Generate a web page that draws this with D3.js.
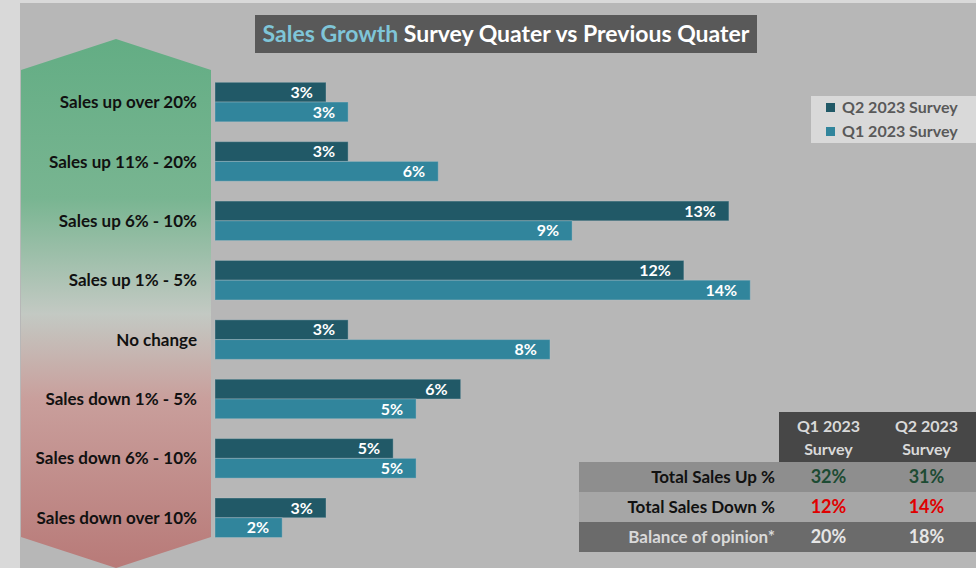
<!DOCTYPE html>
<html>
<head>
<meta charset="utf-8">
<script src="https://cdn.jsdelivr.net/npm/d3@7/dist/d3.min.js"></script>
<style>
  html, body { margin: 0; padding: 0; background: #d9d9d9; }
  svg { display: block; }
  text { font-family: Lato, "Open Sans", sans-serif; }
</style>
</head>
<body>
<svg id="chart" width="976" height="568"></svg>
<script>
// ---------------- data ----------------
const categories = [
  "Sales up over 20%", "Sales up 11% - 20%", "Sales up 6% - 10%", "Sales up 1% - 5%",
  "No change", "Sales down 1% - 5%", "Sales down 6% - 10%", "Sales down over 10%"
];
const seriesNames = ["Q2 2023 Survey", "Q1 2023 Survey"];
const q2Values = [2.81, 3.37, 13.01, 11.87, 3.37, 6.22, 4.51, 2.81];
const q1Values = [3.37, 5.65, 9.04, 13.55, 8.48, 5.09, 5.09, 1.70];
const seriesColors = ["#215967", "#31859c"];

const tableHeaders = [["Q1 2023", "Survey"], ["Q2 2023", "Survey"]];
const tableRowLabels = ["Total Sales Up %", "Total Sales Down %", "Balance of opinion*"];
const tableQ1 = [32, 12, 20];
const tableQ2 = [31, 14, 18];

const titleParts = ["Sales Growth", " Survey Quater vs Previous Quater"];

// ---------------- drawing ----------------
const svg = d3.select("#chart");

svg.append("rect").attr("x", 0).attr("y", 0).attr("width", 976).attr("height", 568).attr("fill", "#d9d9d9");
svg.append("rect").attr("x", 20).attr("y", 3).attr("width", 956).attr("height", 565).attr("fill", "#b7b7b7");

const defs = svg.append("defs");
const grad = defs.append("linearGradient").attr("id", "arrowGrad")
  .attr("x1", 0).attr("y1", 0).attr("x2", 0).attr("y2", 1);
[[0, "#63ad84"], [0.3, "#78b591"], [0.52, "#c3c9c3"], [0.68, "#c99f9c"], [1, "#b87a78"]]
  .forEach(([o, c]) => grad.append("stop").attr("offset", o).attr("stop-color", c));
svg.append("path")
  .attr("d", "M116,39 L211,70 L211,537 L116,568 L21,537 L21,70 Z")
  .attr("fill", "url(#arrowGrad)");

const x = d3.scaleLinear().domain([0, 14]).range([215, 215 + 14 * 39.5]);
const y = d3.scaleBand().domain(categories).range([82.3, 537.5]).paddingInner(0.335).paddingOuter(0);
const ySub = d3.scaleBand().domain(seriesNames).range([0, y.bandwidth()]);

const rows = categories.map((c, i) => ({ cat: c, vals: [q2Values[i], q1Values[i]] }));

const groups = svg.append("g").selectAll("g.cat").data(rows).join("g")
  .attr("class", "cat")
  .attr("transform", d => `translate(0,${y(d.cat)})`);

groups.selectAll("rect").data(d => d.vals.map((v, k) => ({ v, k })))
  .join("rect")
  .attr("x", x(0))
  .attr("y", d => ySub(seriesNames[d.k]))
  .attr("width", d => x(d.v) - x(0))
  .attr("height", ySub.bandwidth())
  .attr("fill", d => seriesColors[d.k])
  .attr("stroke", "rgba(190,200,205,0.35)")
  .attr("stroke-width", 1);

groups.selectAll("text.val").data(d => d.vals.map((v, k) => ({ v, k })))
  .join("text")
  .attr("class", "val")
  .attr("x", d => x(d.v) - 13)
  .attr("y", d => ySub(seriesNames[d.k]) + ySub.bandwidth() / 2)
  .attr("dy", "0.36em")
  .attr("text-anchor", "end")
  .attr("fill", "#ffffff")
  .attr("font-weight", "bold")
  .attr("font-size", "16px")
  .text(d => Math.round(d.v) + "%");

svg.append("g").selectAll("text").data(categories).join("text")
  .attr("x", 197)
  .attr("y", d => y(d) + y.bandwidth() / 2)
  .attr("dy", "0.36em")
  .attr("text-anchor", "end")
  .attr("fill", "#111")
  .attr("font-weight", "bold")
  .attr("font-size", "17px")
  .text(d => d);

// title
svg.append("rect").attr("x", 255).attr("y", 15).attr("width", 502).attr("height", 38).attr("fill", "#595959");
const title = svg.append("text").attr("x", 506).attr("y", 42).attr("text-anchor", "middle")
  .attr("font-weight", "bold").attr("font-size", "23px");
title.append("tspan").attr("fill", "#7fc5d8").text(titleParts[0]);
title.append("tspan").attr("fill", "#ffffff").text(titleParts[1]);

// legend
svg.append("rect").attr("x", 811).attr("y", 96).attr("width", 165).attr("height", 47).attr("fill", "#d9d9d9");
const leg = svg.append("g").selectAll("g").data(seriesNames).join("g")
  .attr("transform", (d, i) => `translate(826,${103 + i * 24})`);
leg.append("rect").attr("width", 9).attr("height", 9).attr("fill", (d, i) => seriesColors[i]);
leg.append("text").attr("x", 16).attr("y", 4.5).attr("dy", "0.36em")
  .attr("fill", "#595959").attr("font-size", "16px").attr("font-weight", "bold").text(d => d);

// table
const colX = [779, 877];
const colW = 99;
svg.append("rect").attr("x", 779).attr("y", 412).attr("width", 197).attr("height", 50).attr("fill", "#474747");
tableHeaders.forEach((h, i) => {
  h.forEach((line, j) => {
    svg.append("text").attr("x", colX[i] + colW / 2).attr("y", 432 + j * 23)
      .attr("text-anchor", "middle").attr("fill", "#d9d9d9")
      .attr("font-weight", "bold").attr("font-size", "16px").text(line);
  });
});
const rowBg = ["#8e8e8e", "#a6a6a6", "#6b6b6b"];
const rowLabelColor = ["#111111", "#111111", "#d9d9d9"];
const rowValColor = ["#1d4b33", "#e00000", "#e6e6e6"];
tableRowLabels.forEach((lab, r) => {
  const ry = 462 + r * 30;
  svg.append("rect").attr("x", 579).attr("y", ry).attr("width", 397).attr("height", 30).attr("fill", rowBg[r]);
  svg.append("text").attr("x", 775).attr("y", ry + 15).attr("dy", "0.36em")
    .attr("text-anchor", "end").attr("fill", rowLabelColor[r])
    .attr("font-weight", "bold").attr("font-size", "17px").text(lab);
  [tableQ1[r], tableQ2[r]].forEach((v, c) => {
    svg.append("text").attr("x", colX[c] + colW / 2).attr("y", ry + 15).attr("dy", "0.36em")
      .attr("text-anchor", "middle").attr("fill", rowValColor[r])
      .attr("font-weight", "bold").attr("font-size", "18px").text(v + "%");
  });
});
</script>
</body>
</html>
